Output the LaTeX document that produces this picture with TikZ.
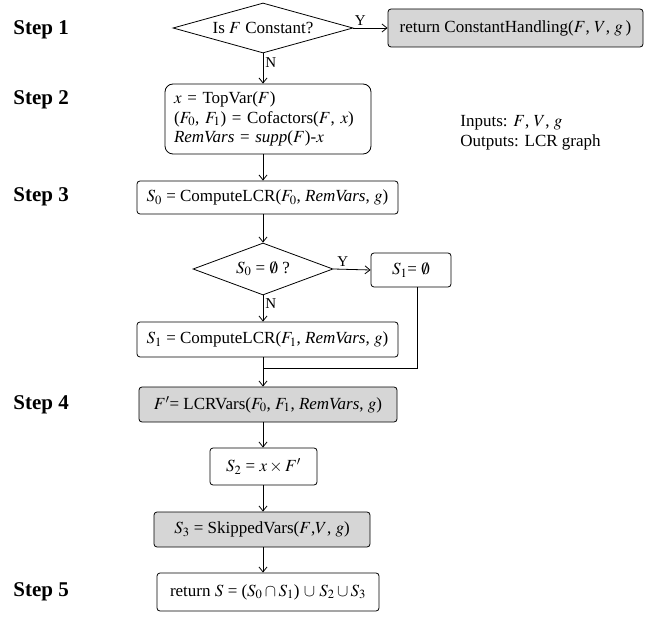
\documentclass[tikz,border=0pt]{standalone}
\usepackage{mathptmx}
\usepackage{fontspec}
\setmainfont{Liberation Serif}
\usetikzlibrary{shapes.geometric, arrows.meta, positioning}
\definecolor{boxgray}{RGB}{214,214,214}
\tikzset{
>={Straight Barb[length=5pt,width=8pt]}, % open arrow heads
every node/.style={font=\fontsize{17}{19.5}\selectfont}, % text size of the boxes
proc/.style={draw, rounded corners=3pt, inner sep=0pt, align=center}, % a process box
gproc/.style={proc, fill=boxgray}, % a shaded process box
decision/.style={draw, diamond, inner sep=0pt}, % a test
steplabel/.style={anchor=west, inner sep=0pt, font=\fontsize{21}{24}\selectfont\bfseries}, % step names on the left
yn/.style={font=\fontsize{15}{17}\selectfont, inner sep=2pt} % Y and N on the branches
}

\begin{document}
\begin{tikzpicture}[x=1pt, y=-1pt, line width=0.8pt]
      \useasboundingbox (0,0) rectangle (645,617);
      \coordinate (col) at (263,0);

      \node[steplabel] (st1) at (13,30) {Step 1};
      \node[steplabel] (st2) at (13,100) {Step 2};
      \node[steplabel] (st3) at (13,197) {Step 3};
      \node[steplabel] (st4) at (13,405) {Step 4};
      \node[steplabel] (st5) at (13,592) {Step 5};

      \node[decision, aspect=3.6, minimum width=180pt, minimum height=50pt] (d1) at (263,28) {Is $F$ Constant?};
      \node[gproc, minimum width=255pt, minimum height=38pt] (ret) at (515.5,28) {return ConstantHandling($F$, $V$, $g$\,)};
      \node[proc, rounded corners=8pt, minimum width=206pt, minimum height=70pt, text width=188pt, align=left] (b2) at (268,119)
        {$x$ = TopVar($F$)\\($F_0$, $F_1$) = Cofactors($F$, $x$)\\\textit{RemVars} = \textit{supp}($F$)-$x$};
      \node[anchor=west, align=left, inner sep=0pt] (io) at (460,133) {Inputs: $F$, $V$, $g$\\Outputs: LCR graph};
      \node[proc, minimum width=261pt, minimum height=33pt] (b3) at (267.5,197.5) {$S_0$ = ComputeLCR($F_0$, \textit{RemVars}, $g$)};
      \node[decision, aspect=2.7, minimum width=140pt, minimum height=52pt] (d2) at (263,269) {$S_0$ = $\emptyset$ ?};
      \node[proc, minimum width=80pt, minimum height=34pt] (e1) at (411,270) {$S_1$= $\emptyset$};
      \node[proc, minimum width=261pt, minimum height=35pt] (b4) at (267.5,339.5) {$S_1$ = ComputeLCR($F_1$, \textit{RemVars}, $g$)};
      \coordinate (j) at (263,368);
      \node[gproc, minimum width=258pt, minimum height=35pt] (b5) at (268,404.5) {$F'$= LCRVars($F_0$, $F_1$, \textit{RemVars}, $g$)};
      \node[proc, minimum width=107pt, minimum height=37pt] (b6) at (263.5,466.5) {$S_2$ = $x \times F'$};
      \node[gproc, minimum width=216pt, minimum height=35pt] (b7) at (262,529.5) {$S_3$ = SkippedVars($F$,$V$, $g$)};
      \node[proc, minimum width=222pt, minimum height=38pt] (b8) at (268,592) {return $S$ = ($S_0 \cap S_1$) $\cup$ $S_2 \cup S_3$};

      \draw[->] (d1.east) -- node[yn, above, pos=0.2]{Y} (ret.west);
      \draw[->] (d1.south) -- node[yn, right, pos=0.3]{N} (b2.north -| col);
      \draw[->] (b2.south -| col) -- (b3.north -| col);
      \draw[->] (b3.south -| col) -- (d2.north);
      \draw[->] (d2.east) -- node[yn, above, pos=0.25]{Y} (e1.west);
      \draw[->] (d2.south) -- node[yn, right, pos=0.3]{N} (b4.north -| col);
      \draw[->] (b4.south -| col) -- (b5.north -| col);
      \draw[->] (b5.south -| col) -- (b6.north -| col);
      \draw[->] (b6.south -| col) -- (b7.north -| col);
      \draw[->] (b7.south -| col) -- (b8.north -| col);
      \draw ([xshift=6pt]e1.south) |- (j);
    \end{tikzpicture}
\end{document}
